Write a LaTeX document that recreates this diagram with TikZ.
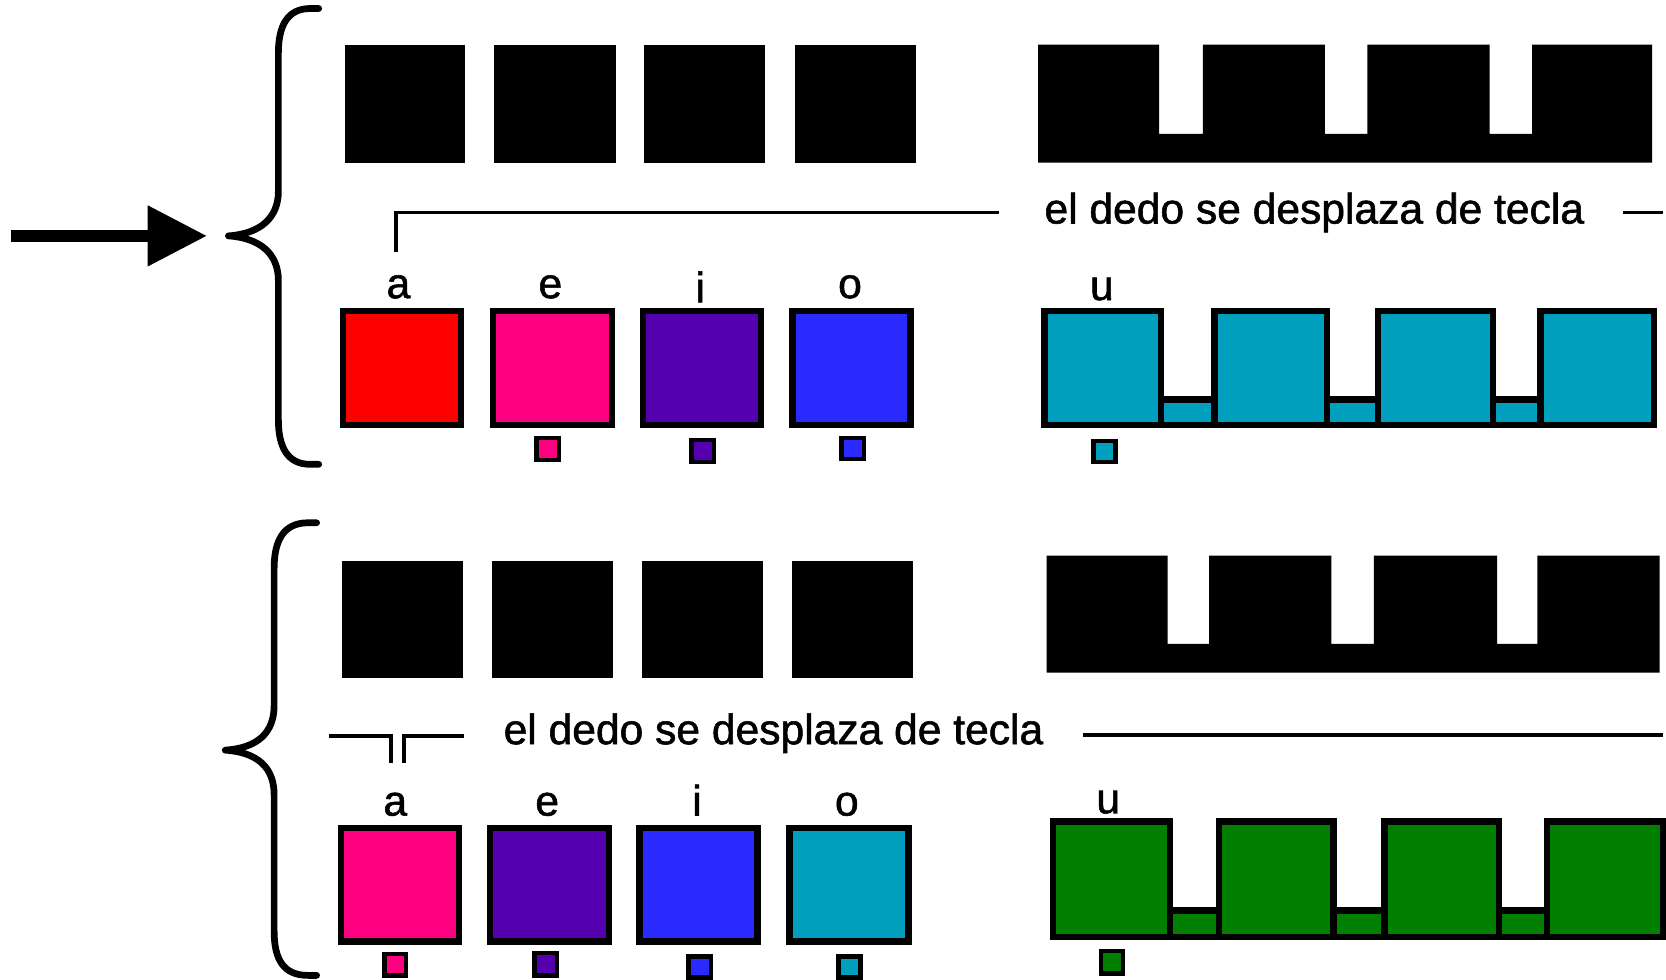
\documentclass[tikz,border=0pt]{standalone}
\usepackage{fontspec}
\setmainfont{Liberation Sans}[BoldFont=Liberation Sans, BoldFeatures={FakeBold=1.3}]
\usetikzlibrary{arrows.meta}

\definecolor{keyred}{HTML}{FF0000}
\definecolor{keypink}{HTML}{FF0080}
\definecolor{keypurple}{HTML}{5500AF}
\definecolor{keyblue}{HTML}{2A2AFF}
\definecolor{keycyan}{HTML}{009FBD}
\definecolor{keygreen}{HTML}{007F00}

\tikzset{
  keybox/.style={draw=black, line width=1.7pt},
  minibox/.style={draw=black, line width=1.2pt},
  bracestroke/.style={line width=1.8pt, line cap=round, line join=round},
  guide/.style={line width=1pt},
  lbl/.style={font=\fontsize{11.4}{13}\selectfont\bfseries, inner sep=0pt}
}

\begin{document}
\begin{tikzpicture}[x=0.1mm, y=-0.1mm]
        \useasboundingbox (0,0) rectangle (1568,922);

        % Arrow and upper brace
        \coordinate (cusp1) at (215,222);
        \coordinate (tail) at (10,222);
        \draw[line width=1.2mm, -{Triangle[length=5.6mm, width=5.4mm]},
          shorten >=2mm] (tail) -- (cusp1);
        \draw[bracestroke] (300,8) -- (292,8)
          .. controls (270,8) and (262,25) .. (262,50) -- (262,180)
          .. controls (262,205) and (245,220) .. (cusp1)
          .. controls (245,224) and (262,239) .. (262,264) -- (262,395)
          .. controls (262,420) and (270,437) .. (292,437) -- (300,437);

        % Upper keys (black)
        \fill (325,42) rectangle (438,153);
        \fill (465,42) rectangle (580,153);
        \fill (606,42) rectangle (720,153);
        \fill (748,42) rectangle (862,153);
        \fill (977,42) -- (1091,42) -- (1091,126) -- (1132,126) -- (1132,42)
          -- (1247,42) -- (1247,126) -- (1287,126) -- (1287,42)
          -- (1402,42) -- (1402,126) -- (1442,126) -- (1442,42)
          -- (1555,42) -- (1555,153) -- (977,153) -- cycle;

        % Upper guide line
        \node[lbl] (txt1) at (1237,200) {el dedo se desplaza de tecla};
        \coordinate (hook1) at (373,237);
        \coordinate (end1) at (1565,202);
        \draw[guide] (hook1) |- ([xshift=-4.2mm]txt1.west);
        \draw[guide] ([xshift=3.6mm]txt1.east) -- (txt1.east -| end1);

        % Upper keys (colour)
        \node[lbl] (a1) at (375,270) {a};
        \node[lbl] (e1) at (518,270) {e};
        \node[lbl] (i1) at (659,270) {i};
        \node[lbl] (o1) at (800,270) {o};
        \node[lbl] (u1) at (1037,272) {u};
        \draw[keybox, fill=keyred] (323,293) rectangle (434,400);
        \draw[keybox, fill=keypink] (464,293) rectangle (576,400);
        \draw[keybox, fill=keypurple] (605,293) rectangle (716,400);
        \draw[keybox, fill=keyblue] (746,293) rectangle (857,400);
        \draw[keybox, fill=keycyan] (1093,376) rectangle (1143,400);
        \draw[keybox, fill=keycyan] (1249,376) rectangle (1297,400);
        \draw[keybox, fill=keycyan] (1405,376) rectangle (1450,400);
        \draw[keybox, fill=keycyan] (983,293) rectangle (1093,400);
        \draw[keybox, fill=keycyan] (1143,293) rectangle (1249,400);
        \draw[keybox, fill=keycyan] (1297,293) rectangle (1405,400);
        \draw[keybox, fill=keycyan] (1450,293) rectangle (1557,400);
        \draw[minibox, fill=keypink] (505,412) rectangle (526,433);
        \draw[minibox, fill=keypurple] (651,414) rectangle (672,435);
        \draw[minibox, fill=keyblue] (792,412) rectangle (813,432);
        \draw[minibox, fill=keycyan] (1029,415) rectangle (1050,435);

        % Lower brace
        \coordinate (cusp2) at (212,706);
        \draw[bracestroke] (298,492) -- (290,492)
          .. controls (266,492) and (258,510) .. (258,535) -- (258,664)
          .. controls (258,690) and (242,704) .. (cusp2)
          .. controls (242,708) and (258,722) .. (258,748) -- (258,876)
          .. controls (258,902) and (266,918) .. (290,918) -- (298,918);

        % Lower keys (black)
        \fill (322,528) rectangle (436,638);
        \fill (463,528) rectangle (577,638);
        \fill (604,528) rectangle (718,638);
        \fill (745,528) rectangle (859,638);
        \fill (985,523) -- (1099,523) -- (1099,606) -- (1138,606) -- (1138,523)
          -- (1253,523) -- (1253,606) -- (1293,606) -- (1293,523)
          -- (1409,523) -- (1409,606) -- (1447,606) -- (1447,523)
          -- (1562,523) -- (1562,633) -- (985,633) -- cycle;

        % Lower guide line
        \node[lbl] (txt2) at (728,690) {el dedo se desplaza de tecla};
        \coordinate (hook2l) at (368,718);
        \coordinate (hook2r) at (380,718);
        \coordinate (start2) at (310,693);
        \coordinate (end2) at (1565,692);
        \draw[guide] (start2) -| (hook2l);
        \draw[guide] (hook2r) |- ([xshift=-3.7mm]txt2.west |- start2);
        \draw[guide] ([xshift=3.7mm]txt2.east |- end2) -- (end2);

        % Lower keys (colour)
        \node[lbl] (a2) at (372,757) {a};
        \node[lbl] (e2) at (515,757) {e};
        \node[lbl] (i2) at (656,753) {i};
        \node[lbl] (o2) at (797,757) {o};
        \node[lbl] (u2) at (1043,755) {u};
        \draw[keybox, fill=keypink] (321,779) rectangle (432,886);
        \draw[keybox, fill=keypurple] (461,779) rectangle (573,886);
        \draw[keybox, fill=keyblue] (602,779) rectangle (713,886);
        \draw[keybox, fill=keycyan] (743,779) rectangle (855,886);
        \draw[keybox, fill=keygreen] (1101,857) rectangle (1147,882);
        \draw[keybox, fill=keygreen] (1255,857) rectangle (1303,882);
        \draw[keybox, fill=keygreen] (1411,857) rectangle (1456,882);
        \draw[keybox, fill=keygreen] (991,773) rectangle (1101,882);
        \draw[keybox, fill=keygreen] (1147,773) rectangle (1255,882);
        \draw[keybox, fill=keygreen] (1303,773) rectangle (1411,882);
        \draw[keybox, fill=keygreen] (1456,773) rectangle (1565,882);
        \draw[minibox, fill=keypink] (362,898) rectangle (382,918);
        \draw[minibox, fill=keypurple] (503,897) rectangle (524,918);
        \draw[minibox, fill=keyblue] (648,900) rectangle (669,920);
        \draw[minibox, fill=keycyan] (789,900) rectangle (810,920);
        \draw[minibox, fill=keygreen] (1036,895) rectangle (1057,916);
\end{tikzpicture}
\end{document}
